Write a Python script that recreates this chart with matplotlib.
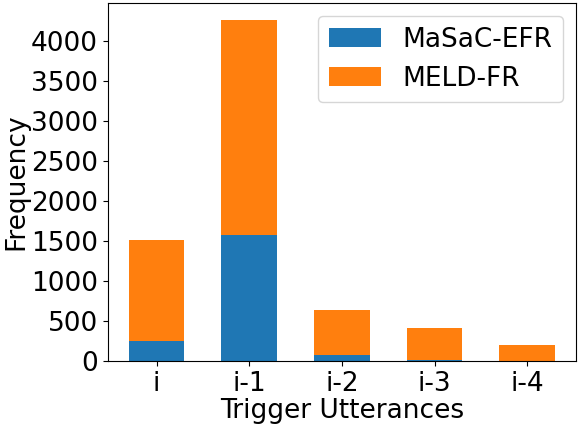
import matplotlib
matplotlib.use("Agg")
import matplotlib.pyplot as plt
import numpy as np

categories = ["i", "i-1", "i-2", "i-3", "i-4"]
masac_efr = [255, 1570, 72, 20, 2]
meld_fr = [1253, 2688, 567, 395, 204]

plt.rcParams['font.family'] = ['DejaVu Sans']
fig, ax = plt.subplots(figsize=(5.78, 4.28), dpi=100)
x = np.arange(len(categories))
ax.bar(x, masac_efr, width=0.6, color='#1f77b4', label='MaSaC-EFR')
ax.bar(x, meld_fr, width=0.6, bottom=masac_efr, color='#ff7f0e', label='MELD-FR')
ax.set_xticks(x)
ax.set_xticklabels(categories)
ax.tick_params(labelsize=19)
ax.set_xlabel("Trigger Utterances", fontsize=19, labelpad=1)
ax.set_ylabel("Frequency", fontsize=19, labelpad=1)
ax.set_yticks(range(0, 4001, 500))
ax.legend(fontsize=19, loc='upper right')
fig.subplots_adjust(left=0.186, right=0.997, top=0.993, bottom=0.156)
fig.savefig("out.png", dpi=100)
